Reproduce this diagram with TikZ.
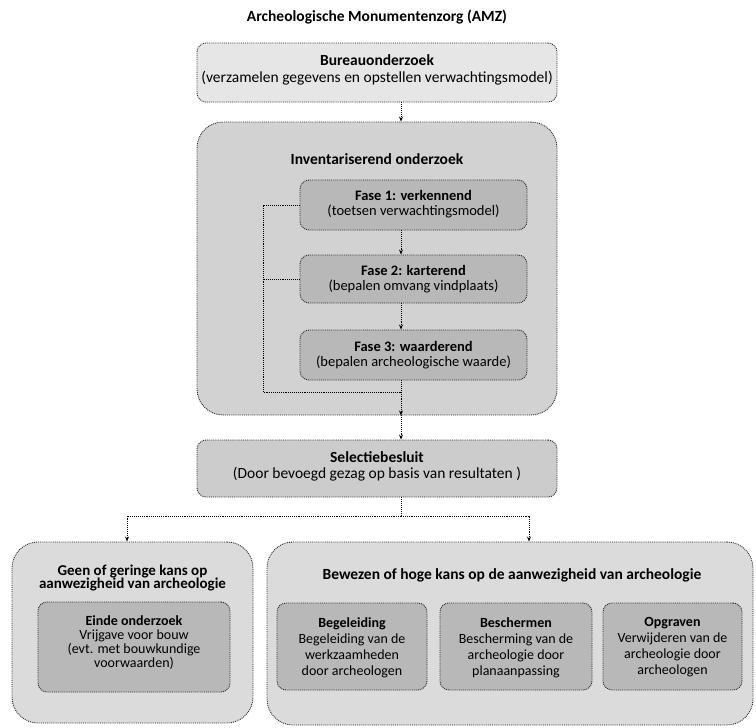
\documentclass[tikz,border=0pt]{standalone}
\usepackage{fontspec}
\setmainfont{Carlito}
\usetikzlibrary{arrows.meta}
\definecolor{lightfill}{gray}{0.86}
\definecolor{midfill}{gray}{0.80}
\definecolor{darkfill}{gray}{0.72}
\begin{document}
\begin{tikzpicture}[x=1pt,y=-1pt,
  boxline/.style={draw=black!85, densely dotted, line width=0.9pt},
  flatbox/.style={boxline, fill=lightfill, rounded corners=9pt, inner sep=0pt},
  bigbox/.style={boxline, fill=lightfill, rounded corners=26pt, inner sep=0pt},
  innerbox/.style={boxline, fill=darkfill, rounded corners=9pt, inner sep=0pt},
  label/.style={font=\fontsize{15.5}{16.5}\selectfont, align=center, inner sep=0pt},
  faselabel/.style={label, font=\fontsize{14.5}{15}\selectfont},
  smalllabel/.style={label, font=\fontsize{14}{16}\selectfont},
  conn/.style={black, densely dotted, line width=0.9pt},
  arr/.style={conn, -{Stealth[length=5pt,width=4pt]}}
]
\useasboundingbox (0,0) rectangle (756,728);

% Title
\node[label, font=\fontsize{15.5}{16.5}\selectfont\bfseries] (title) at (377,17) {Archeologische Monumentenzorg (AMZ)};

% Bureauonderzoek
\node[flatbox, fill=lightfill!70!white, minimum width=360pt, minimum height=59pt] (bureau) at (377,72.5) {};
\node[label] (bureautxt) at (377,70) {\textbf{Bureauonderzoek}\\(verzamelen gegevens en opstellen verwachtingsmodel)};

% Inventariserend onderzoek
\node[bigbox, fill=midfill!60!lightfill, minimum width=360pt, minimum height=293pt] (inv) at (377,268.5) {};
\node[label] (invtxt) at (377,159) {\textbf{Inventariserend onderzoek}};

\node[innerbox, minimum width=227pt, minimum height=50pt] (f1) at (413.5,205) {};
\node[faselabel] (f1txt) at (413.5,204) {\textbf{Fase 1: verkennend}\\(toetsen verwachtingsmodel)};
\node[innerbox, minimum width=227pt, minimum height=48pt] (f2) at (413.5,279) {};
\node[faselabel] (f2txt) at (413.5,279) {\textbf{Fase 2: karterend}\\(bepalen omvang vindplaats)};
\node[innerbox, minimum width=227pt, minimum height=50pt] (f3) at (413.5,355) {};
\node[faselabel] (f3txt) at (413.5,355) {\textbf{Fase 3: waarderend}\\(bepalen archeologische waarde)};

% Selectiebesluit
\node[flatbox, fill=midfill, minimum width=360pt, minimum height=57pt] (sel) at (377,468.5) {};
\node[label] (seltxt) at (377,466.5) {\textbf{Selectiebesluit}\\(Door bevoegd gezag op basis van resultaten )};

% Left outcome
\node[bigbox, minimum width=241pt, minimum height=181pt] (geen) at (132.5,632.5) {};
\node[label, font=\fontsize{15}{13.5}\selectfont\bfseries] (geentxt) at (132.5,578) {Geen of geringe kans op\\aanwezigheid van archeologie};
\node[innerbox, minimum width=192pt, minimum height=90pt] (einde) at (134,647) {};
\node[label, font=\fontsize{14}{14}\selectfont] (eindetxt) at (134,643) {\textbf{Einde onderzoek}\\Vrijgave voor bouw\\(evt. met bouwkundige\\voorwaarden)};

% Right outcome
\node[bigbox, minimum width=486pt, minimum height=183pt] (bew) at (510,633.5) {};
\node[label] (bewtxt) at (512,575) {\textbf{Bewezen of hoge kans op de aanwezigheid van archeologie}};
\node[innerbox, minimum width=150pt, minimum height=87pt] (beg) at (352,646.5) {};
\node[smalllabel] (begtxt) at (352,647.5) {\textbf{Begeleiding}\\Begeleiding van de\\werkzaamheden\\door archeologen};
\node[innerbox, minimum width=152pt, minimum height=87pt] (bes) at (516,646.5) {};
\node[smalllabel] (bestxt) at (516,647.5) {\textbf{Beschermen}\\Bescherming van de\\archeologie door\\planaanpassing};
\node[innerbox, minimum width=139pt, minimum height=87pt] (opg) at (672.5,646.5) {};
\node[smalllabel] (opgtxt) at (672.5,647.5) {\textbf{Opgraven}\\Verwijderen van de\\archeologie door\\archeologen};

% Connectors
\coordinate (ax) at (401,0);
\coordinate (loopx) at (263,0);
\coordinate (loopb) at (263,392);
\coordinate (splity) at (0,516);
\coordinate (lx) at (127,0);
\coordinate (rx) at (529,0);

\draw[arr] (bureau.south -| ax) -- (inv.north -| ax);
\draw[arr] (f1.south -| ax) -- (f2.north -| ax);
\draw[arr] (f2.south -| ax) -- (f3.north -| ax);
\draw[conn] (f1.west) -- (f1.west -| loopx) -- (loopb) -- (loopb -| ax);
\draw[conn] (f2.west) -- (f2.west -| loopx);
\draw[arr] (f3.south -| ax) -- (inv.south -| ax);
\draw[arr] (inv.south -| ax) -- (sel.north -| ax);
\draw[conn] (sel.south -| ax) -- (splity -| ax);
\draw[arr] (splity -| ax) -- (splity -| lx) -- (geen.north -| lx);
\draw[arr] (splity -| ax) -- (splity -| rx) -- (bew.north -| rx);
\end{tikzpicture}
\end{document}
